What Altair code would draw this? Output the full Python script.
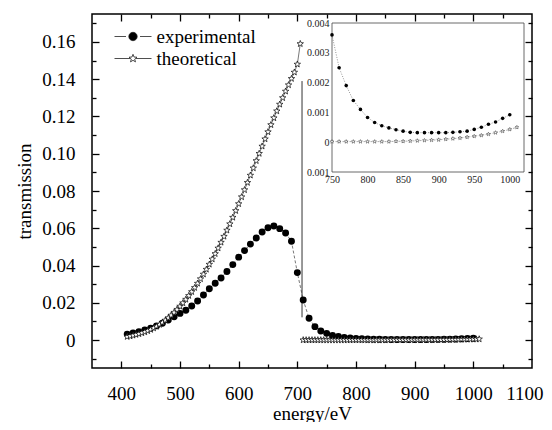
import math
import altair as alt
import pandas as pd

# ---------------- data ----------------
exp_energy = [410, 420, 430, 440, 450, 460, 470, 480, 490, 500,
              510, 520, 530, 540, 550, 560, 570, 580, 590, 600,
              610, 620, 630, 640, 650, 660, 670, 680, 690, 700,
              710, 720, 730, 740, 750, 760, 770, 780, 790, 800,
              810, 820, 830, 840, 850, 860, 870, 880, 890, 900,
              910, 920, 930, 940, 950, 960, 970, 980, 990, 1000]
exp_trans = [0.0032, 0.0038, 0.0045, 0.0054, 0.0064, 0.0076, 0.0090, 0.0107, 0.0125, 0.0143,
             0.0160, 0.0183, 0.0210, 0.0242, 0.0275, 0.0305, 0.0333, 0.0368, 0.0405, 0.0445,
             0.0480, 0.0515, 0.0548, 0.0580, 0.0603, 0.0612, 0.0598, 0.0575, 0.0530, 0.0362,
             0.0215, 0.0117, 0.0072, 0.0049, 0.0036, 0.0025, 0.0019, 0.0014, 0.0011, 0.00083,
             0.00066, 0.00055, 0.00048, 0.00042, 0.00037, 0.00033, 0.00032, 0.00032, 0.00032, 0.00032,
             0.00032, 0.00033, 0.00035, 0.00037, 0.00043, 0.00050, 0.00060, 0.00068, 0.00080, 0.00092]

theo_energy_pre = [410, 415, 420, 425, 430, 435, 440, 445, 450, 455,
                   460, 465, 470, 475, 480, 485, 490, 495, 500, 505,
                   510, 515, 520, 525, 530, 535, 540, 545, 550, 555,
                   560, 565, 570, 575, 580, 585, 590, 595, 600, 605,
                   610, 615, 620, 625, 630, 635, 640, 645, 650, 655,
                   660, 665, 670, 675, 680, 685, 690, 695, 700, 705]
theo_trans_pre = [0.0018, 0.0021, 0.0025, 0.0029, 0.0033, 0.0038, 0.0043, 0.0049, 0.0056, 0.0064,
                  0.0073, 0.0083, 0.0094, 0.0106, 0.0119, 0.0133, 0.0148, 0.0164, 0.0181, 0.0199,
                  0.0218, 0.0238, 0.0259, 0.0281, 0.0304, 0.0328, 0.0353, 0.0379, 0.0406, 0.0434,
                  0.0463, 0.0493, 0.0524, 0.0556, 0.0589, 0.0623, 0.0658, 0.0694, 0.0731, 0.0768,
                  0.0806, 0.0845, 0.0884, 0.0923, 0.0962, 0.1001, 0.1040, 0.1079, 0.1117, 0.1155,
                  0.1192, 0.1229, 0.1265, 0.1300, 0.1335, 0.1369, 0.1403, 0.1437, 0.1480, 0.1590]

theo_energy_post = [710, 715, 720, 725, 730, 735, 740, 745, 750, 755,
                    760, 765, 770, 775, 780, 785, 790, 795, 800, 805,
                    810, 815, 820, 825, 830, 835, 840, 845, 850, 855,
                    860, 865, 870, 875, 880, 885, 890, 895, 900, 905,
                    910, 915, 920, 925, 930, 935, 940, 945, 950, 955,
                    960, 965, 970, 975, 980, 985, 990, 995, 1000, 1005, 1010]
theo_trans_post = [0.00002, 0.00002, 0.00002, 0.00002, 0.00002, 0.00002, 0.00002, 0.00002, 0.00002, 0.00002,
                   0.00002, 0.00002, 0.00002, 0.00002, 0.00002, 0.00002, 0.00002, 0.00002, 0.00002, 0.00002,
                   0.00002, 0.00002, 0.00002, 0.00002, 0.00002, 0.00003, 0.00003, 0.00003, 0.00003, 0.00004,
                   0.00004, 0.00004, 0.00005, 0.00005, 0.00006, 0.00006, 0.00007, 0.00007, 0.00008, 0.00009,
                   0.00010, 0.00011, 0.00012, 0.00013, 0.00014, 0.00015, 0.00017, 0.00018, 0.00020, 0.00021,
                   0.00023, 0.00025, 0.00027, 0.00030, 0.00032, 0.00035, 0.00037, 0.00040, 0.00043, 0.00046, 0.00050]

series_names = ["experimental", "theoretical"]

# main axes
x_domain = [350, 1100]
y_domain = [-0.015, 0.175]
x_label_values = [400, 500, 600, 700, 800, 900, 1000, 1100]
x_major_values = [400, 500, 600, 700, 800, 900, 1000]
x_minor_values = [450, 550, 650, 750, 850, 950, 1050]
y_label_values = [0, 0.02, 0.04, 0.06, 0.08, 0.10, 0.12, 0.14, 0.16]
y_minor_values = [-0.01, 0.01, 0.03, 0.05, 0.07, 0.09, 0.11, 0.13, 0.15, 0.17]

# pointer line (edge marker)
pointer_energy = [708]
pointer_low = [0.0122]
pointer_high = [0.139]

# inset
inset_x_domain = [750, 1020]
inset_y_domain = [-0.001, 0.004]
inset_x_values = [750, 800, 850, 900, 950, 1000]
inset_y_values = [-0.001, 0, 0.001, 0.002, 0.003, 0.004]

# ---------------- frames ----------------
exp_df = pd.DataFrame({"energy": exp_energy, "transmission": exp_trans})
theo_pre_df = pd.DataFrame({"energy": theo_energy_pre, "transmission": theo_trans_pre})
theo_post_df = pd.DataFrame({"energy": theo_energy_post, "transmission": theo_trans_post})
theo_df = pd.DataFrame({"energy": theo_energy_pre + theo_energy_post,
                        "transmission": theo_trans_pre + theo_trans_post})
pointer_df = pd.DataFrame({"energy": pointer_energy, "low": pointer_low, "high": pointer_high})
legend_df = pd.DataFrame({"series": series_names})

inset_exp_df = exp_df[exp_df["energy"] >= inset_x_domain[0]].reset_index(drop=True)
inset_theo_df = theo_post_df[(theo_post_df["energy"] >= inset_x_domain[0])
                             & (theo_post_df["energy"] % 10 == 0)].reset_index(drop=True)
frame_df = pd.DataFrame({"x0": [inset_x_domain[0]], "x1": [inset_x_domain[1]],
                         "y0": [inset_y_domain[0]], "y1": [inset_y_domain[1]]})

FONT = "Liberation Serif, Times New Roman, serif"
FS = 19
W, H = 440, 354


def xs():
    return alt.Scale(domain=x_domain, nice=False, zero=False)


def ys():
    return alt.Scale(domain=y_domain, nice=False, zero=False)


def X(field="energy", axis=None):
    return alt.X(f"{field}:Q", scale=xs(), axis=axis)


def Y(field="transmission", axis=None):
    return alt.Y(f"{field}:Q", scale=ys(), axis=axis)


# ---------------- symbols ----------------
def star_path(r_out, r_in):
    pts = []
    for k in range(10):
        ang = -math.pi / 2 + k * math.pi / 5
        r = r_out if k % 2 == 0 else r_in
        pts.append(f"{r*math.cos(ang):.3f},{r*math.sin(ang):.3f}")
    return "M" + "L".join(pts) + "Z"


STAR = star_path(1.0, 0.42)
exp_symbol = ("M-1.85,0H-0.7M0.7,0H1.85"
              "M-0.42,0A0.42,0.42,0,1,0,0.42,0A0.42,0.42,0,1,0,-0.42,0Z")
theo_symbol = "M-1.85,0H-0.3M0.3,0H1.85" + star_path(0.42, 0.18)

legend_props = dict(title=None, orient="none", legendX=22, legendY=12,
                    symbolSize=400, symbolOffset=8.5, labelOffset=13,
                    labelFont=FONT, labelFontSize=FS, labelColor="black",
                    labelLimit=300, padding=0, rowPadding=1,
                    symbolStrokeWidth=0.8, symbolStrokeColor="black", symbolOpacity=1)

# ---------------- main layers ----------------
exp_line = alt.Chart(exp_df).mark_line(color="#555", strokeWidth=0.8, strokeDash=[3, 2]).encode(x=X(), y=Y())
theo_line_pre = alt.Chart(theo_pre_df).mark_line(color="#555", strokeWidth=0.8).encode(x=X(), y=Y())
theo_line_post = alt.Chart(theo_post_df).mark_line(color="#555", strokeWidth=0.8).encode(x=X(), y=Y())
pointer = alt.Chart(pointer_df).mark_rule(color="#333", strokeWidth=1).encode(
    x=X(), y=Y("low"), y2="high:Q")
exp_pts = alt.Chart(exp_df).mark_circle(color="black", size=48, opacity=1).encode(x=X(), y=Y())
theo_pts = alt.Chart(theo_df).mark_point(shape=STAR, filled=True, fill="white", stroke="black",
                                         strokeWidth=0.7, size=45, opacity=1).encode(x=X(), y=Y())

legend_layer = alt.Chart(legend_df).mark_point(opacity=0, filled=True, strokeWidth=0.8).encode(
    shape=alt.Shape("series:N", scale=alt.Scale(domain=series_names, range=[exp_symbol, theo_symbol]),
                    legend=alt.Legend(**legend_props)),
    fill=alt.Fill("series:N", scale=alt.Scale(domain=series_names, range=["black", "white"]),
                  legend=alt.Legend(**legend_props)),
    stroke=alt.Stroke("series:N", scale=alt.Scale(domain=series_names, range=["#222", "#222"]),
                      legend=alt.Legend(**legend_props)),
)

lab_common = dict(labelFont=FONT, labelFontSize=FS, labelColor="black", grid=False, domain=False,
                  titleFont=FONT, titleFontSize=FS, titleFontWeight="normal", titleColor="black",
                  labelOverlap=False)
tick_common = dict(labels=False, domain=False, grid=False, title=None, tickColor="black", tickWidth=1.3)

x_axes = [
    alt.Axis(orient="bottom", values=x_label_values, ticks=False, labelPadding=16, format="d",
             labelFlush=True, labelFlushOffset=11,
             title="energy/eV", titleBaseline="middle", titleY=45, **lab_common),
    alt.Axis(orient="bottom", values=x_major_values, tickSize=7, offset=-7, **tick_common),
    alt.Axis(orient="bottom", values=x_minor_values, tickSize=4, offset=-4, **tick_common),
    alt.Axis(orient="top", values=x_major_values, tickSize=7, offset=-7, **tick_common),
    alt.Axis(orient="top", values=x_minor_values, tickSize=4, offset=-4, **tick_common),
]
y_axes = [
    alt.Axis(orient="left", values=y_label_values, ticks=False, labelPadding=17, labelFlush=False,
             labelExpr="datum.value == 0 ? '0' : format(datum.value, '.2f')",
             title="transmission", titleBaseline="middle", titleX=-68, **lab_common),
    alt.Axis(orient="left", values=y_label_values, tickSize=7, offset=-7, **tick_common),
    alt.Axis(orient="left", values=y_minor_values, tickSize=4, offset=-4, **tick_common),
    alt.Axis(orient="right", values=y_label_values, tickSize=7, offset=-7, **tick_common),
    alt.Axis(orient="right", values=y_minor_values, tickSize=4, offset=-4, **tick_common),
]
axis_layers = [
    alt.Chart(exp_df).mark_point(opacity=0).encode(x=X(axis=xa), y=Y(axis=ya))
    for xa, ya in zip(x_axes, y_axes)
]

# ---------------- inset ----------------
def IX(field="energy", axis=None):
    return alt.X(f"{field}:Q", scale=alt.Scale(domain=inset_x_domain, range=[240, 432], nice=False, zero=False),
                 axis=axis)


def IY(field="transmission", axis=None):
    return alt.Y(f"{field}:Q", scale=alt.Scale(domain=inset_y_domain, range=[158, 9], nice=False, zero=False),
                 axis=axis)


frame = alt.Chart(frame_df).mark_rect(fill="white", stroke="#444", strokeWidth=0.8).encode(
    x=IX("x0"), x2="x1:Q", y=IY("y0"), y2="y1:Q")
i_exp_line = alt.Chart(inset_exp_df).mark_line(color="#666", strokeWidth=0.7, strokeDash=[1, 1.5]).encode(
    x=IX(), y=IY())
i_theo_line = alt.Chart(inset_theo_df).mark_line(color="#888", strokeWidth=0.7, strokeDash=[2, 1.5]).encode(
    x=IX(), y=IY())
i_exp_pts = alt.Chart(inset_exp_df).mark_circle(color="black", size=13, opacity=1).encode(x=IX(), y=IY())
i_theo_pts = alt.Chart(inset_theo_df).mark_point(shape=STAR, filled=True, fill="white", stroke="#333",
                                                 strokeWidth=0.5, size=16, opacity=1).encode(x=IX(), y=IY())
i_axes = alt.Chart(inset_exp_df).mark_point(opacity=0).encode(
    x=IX(axis=alt.Axis(orient="bottom", values=inset_x_values, offset=-(H - 158), ticks=False, domain=False,
                       grid=False, labelFont=FONT, labelFontSize=10, labelColor="#222", labelPadding=2,
                       format="d", labelFlush=False, labelOverlap=False, title=None)),
    y=IY(axis=alt.Axis(orient="left", values=inset_y_values, offset=-240, ticks=False, domain=False,
                       grid=False, labelFont=FONT, labelFontSize=10, labelColor="#222", labelPadding=3,
                       labelExpr="datum.value < 0 ? format(-datum.value, '.3f') : (datum.value == 0 ? '0' : format(datum.value, '.3f'))",
                       labelFlush=False, labelOverlap=False, title=None)),
)

chart = alt.layer(
    exp_line, theo_line_pre, theo_line_post, pointer, exp_pts, theo_pts, legend_layer, *axis_layers,
    frame, i_theo_line, i_exp_line, i_theo_pts, i_exp_pts, i_axes,
).resolve_scale(x="independent", y="independent").properties(
    width=W, height=H,
    autosize=alt.AutoSizeParams(type="none"),
    padding={"left": 84, "top": 6, "right": 12, "bottom": 54},
    background="white",
).configure_view(stroke="black", strokeWidth=1.5)

chart.save("out.html", embed_options={"renderer": "svg", "actions": False})
